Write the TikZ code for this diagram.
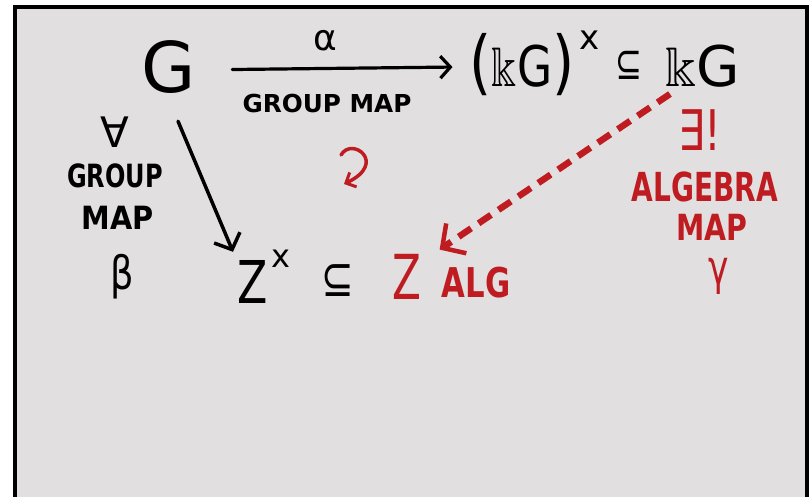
\documentclass[tikz,border=0pt]{standalone}
\usepackage{amssymb}
\usepackage{fontspec}
\setmainfont{DejaVu Sans}
\usetikzlibrary{arrows.meta}
\definecolor{bgc}{RGB}{225,223,224}
\definecolor{hred}{RGB}{190,28,32}
\newcommand{\fs}[1]{\fontsize{#1}{#1}\selectfont}
\newcommand{\sx}[2]{\scalebox{#1}[1]{#2}}
\begin{document}
\begin{tikzpicture}[x=1pt,y=-1pt,
  lbl/.style={inner sep=0pt, anchor=base},
  redtxt/.style={text=hred},
  blackarrow/.style={line width=3.5pt, line cap=round, -{Straight Barb[length=13pt,width=28pt,line width=3.5pt]}},
  toparrow/.style={line width=3.2pt, line cap=round, -{Straight Barb[length=10pt,width=22pt,line width=3.2pt]}},
  redarrow/.style={hred, line width=6.5pt, dash pattern=on 15pt off 9pt, -{Straight Barb[length=17pt,width=36pt,line width=4.5pt]}}]
\useasboundingbox (0,0) rectangle (809,497);
\fill[white] (0,0) rectangle (809,497);
\fill[bgc] (15,7) rectangle (807,497);
\draw[line width=4pt] (15,497) -- (15,7) -- (807,7) -- (807,497);
% top row
\node[lbl, font=\fs{70}] (G) at (169,93) {G};
\node[lbl, font=\fs{36}] (alpha) at (325,51) {α};
\node[lbl, font=\bfseries\fs{24.7}] (gm1) at (327,113) {GROUP MAP};
\node[lbl, font=\fs{56}] (U) at (522,87) {\sx{0.81}{{\fs{70}(}$\Bbbk$G{\fs{70})}}};
\node[lbl, font=\fs{34}] (usup) at (590,50) {x};
\node[lbl, font=\fs{46}] (sub1) at (629,80) {\sx{0.7}{⊆}};
\node[lbl, font=\fs{56}] (K) at (703,87) {$\Bbbk$G};
% left labels
\node[lbl, font=\fs{42}] (forall) at (115,148) {∀};
\node[lbl, font=\bfseries\fs{32}] (gm2) at (115,188) {\sx{0.75}{GROUP}};
\node[lbl, font=\bfseries\fs{32}] (gm3) at (118,230) {\sx{0.9}{MAP}};
\node[lbl, font=\fs{46}] (beta) at (122,290) {\sx{0.8}{β}};
% commute symbol
\draw[hred, line width=3.5pt, line cap=round, -{Straight Barb[length=8pt,width=16pt,line width=3pt]}]
  (341,155) .. controls (352,136) and (388,163) .. (344,184);
% bottom row
\node[lbl, font=\fs{59}] (Zx) at (253,303) {\sx{0.75}{Z}};
\node[lbl, font=\fs{32}] (zsup) at (281,268) {x};
\node[lbl, font=\fs{52}] (sub2) at (338,297) {\sx{0.75}{⊆}};
\node[lbl, redtxt, font=\fs{62}] (Zr) at (407,300) {\sx{0.68}{Z}};
\node[lbl, redtxt, font=\bfseries\fs{41}] (alg) at (476,298) {\sx{0.75}{ALG}};
% right labels
\node[lbl, redtxt, font=\fs{56}] (exists) at (700,151) {\sx{0.75}{∃!}};
\node[lbl, redtxt, font=\bfseries\fs{40}] (ab) at (705,202) {\sx{0.7}{ALGEBRA}};
\node[lbl, redtxt, font=\bfseries\fs{36}] (am) at (712,241) {\sx{0.79}{MAP}};
\node[lbl, redtxt, font=\fs{48}] (gamma) at (719,284) {\sx{0.72}{γ}};
% arrows
\draw[toparrow] ([shift={(36pt,-2pt)}]G.east) -- ([shift={(-17pt,-2pt)}]U.west);
\draw[blackarrow] ([shift={(9pt,-27pt)}]G.south) -- ([shift={(-20pt,8pt)}]Zx.north);
\draw[redarrow] ([shift={(-33pt,-6pt)}]K.south) -- ([shift={(18pt,5pt)}]Zr.north east);
\end{tikzpicture}
\end{document}
